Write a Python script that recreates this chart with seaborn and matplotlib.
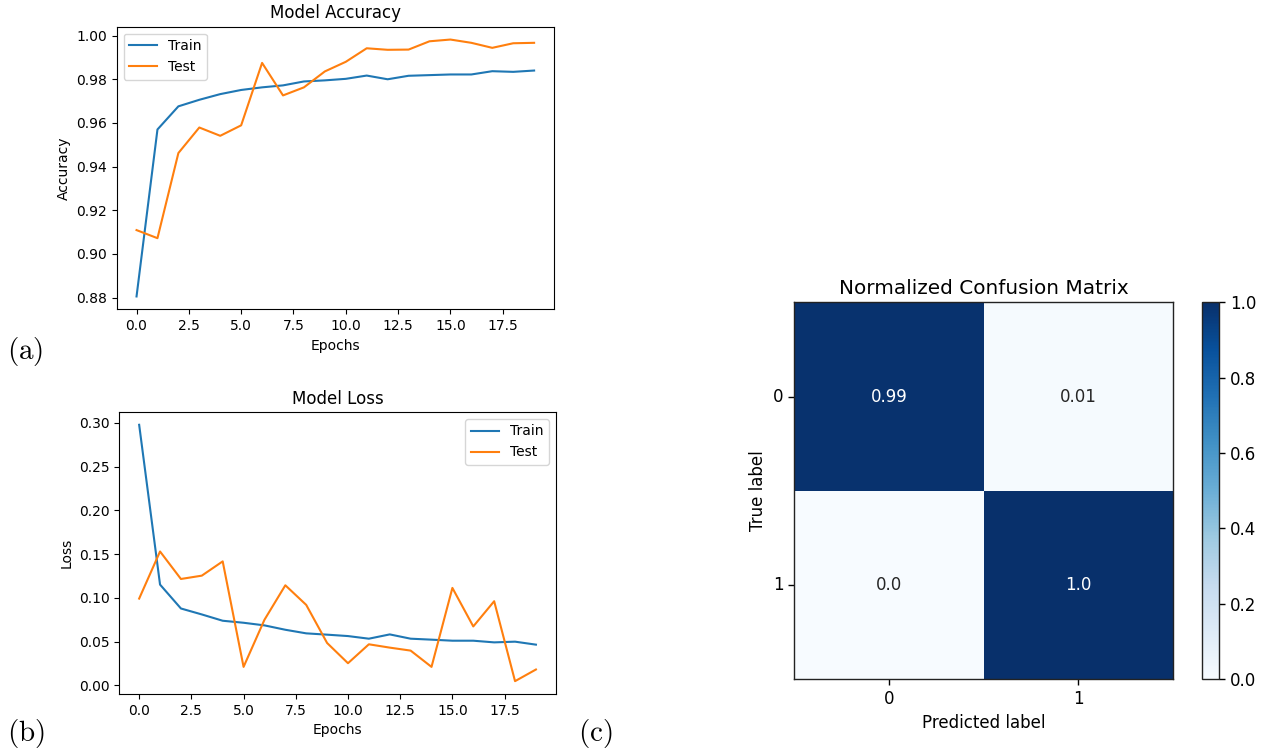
import numpy as np
import pandas as pd
import matplotlib
matplotlib.use("Agg")
import matplotlib.pyplot as plt
import seaborn as sns

# ---- data ----
epochs = list(range(20))
train_acc = [0.8805, 0.957, 0.9676, 0.9706, 0.9732, 0.9751, 0.9763, 0.9772, 0.979, 0.9795,
             0.9802, 0.9817, 0.980, 0.9816, 0.9819, 0.9822, 0.9822, 0.9837, 0.9834, 0.984]
test_acc = [0.9109, 0.9072, 0.9462, 0.9579, 0.9541, 0.9589, 0.9875, 0.9726, 0.9763, 0.9836,
            0.988, 0.9942, 0.9935, 0.9936, 0.9974, 0.9982, 0.9967, 0.9944, 0.9965, 0.9967]
train_loss = [0.2977, 0.1152, 0.0879, 0.0811, 0.0739, 0.0716, 0.0686, 0.0636, 0.0595, 0.058,
              0.0564, 0.0534, 0.0583, 0.0534, 0.0523, 0.0511, 0.0511, 0.0492, 0.050, 0.0466]
test_loss = [0.0992, 0.153, 0.1216, 0.1254, 0.1417, 0.0212, 0.075, 0.1144, 0.092, 0.0485,
             0.0254, 0.047, 0.0432, 0.0398, 0.0212, 0.1114, 0.0674, 0.0962, 0.0049, 0.0182]
series_labels = ["Train", "Test"]
class_labels = ["0", "1"]
cm_values = [[0.99, 0.01],
             [0.0, 1.0]]

plt.rcParams["mathtext.fontset"] = "cm"
plt.rcParams["font.family"] = ["DejaVu Sans"]

fig = plt.figure(figsize=(12.68, 7.5), dpi=100)

blue = "#1f77b4"
orange = "#ff7f0e"

# ---- accuracy ----
ax1 = fig.add_axes([0.0920, 0.5876, 0.3449, 0.3768])
sns.lineplot(x=epochs, y=train_acc, ax=ax1, color=blue, label=series_labels[0], linewidth=1.5)
sns.lineplot(x=epochs, y=test_acc, ax=ax1, color=orange, label=series_labels[1], linewidth=1.5)
ax1.set_title("Model Accuracy", fontsize=12)
ax1.set_xlabel("Epochs", fontsize=10)
ax1.set_ylabel("Accuracy", fontsize=10)
ax1.set_xticks(np.arange(0, 20, 2.5))
ax1.set_yticks(np.arange(0.88, 1.001, 0.02))
ax1.legend(loc="upper left", fontsize=10)
ax1.tick_params(labelsize=10)

# ---- loss ----
ax2 = fig.add_axes([0.0941, 0.0747, 0.3442, 0.376])
sns.lineplot(x=epochs, y=train_loss, ax=ax2, color=blue, label=series_labels[0], linewidth=1.5)
sns.lineplot(x=epochs, y=test_loss, ax=ax2, color=orange, label=series_labels[1], linewidth=1.5)
ax2.set_title("Model Loss", fontsize=12)
ax2.set_xlabel("Epochs", fontsize=10)
ax2.set_ylabel("Loss", fontsize=10)
ax2.set_xticks(np.arange(0, 20, 2.5))
ax2.set_yticks(np.arange(0.0, 0.301, 0.05))
ax2.legend(loc="upper right", fontsize=10)
ax2.tick_params(labelsize=10)

# ---- confusion matrix ----
ax3 = fig.add_axes([0.6262, 0.0943, 0.2989, 0.5027])
cax = fig.add_axes([0.9479, 0.0943, 0.01364, 0.5027])
cm_df = pd.DataFrame(cm_values, index=class_labels, columns=class_labels)
annot = [[str(v) for v in row] for row in cm_values]
sns.heatmap(cm_df, ax=ax3, cbar_ax=cax, cmap="Blues", vmin=0, vmax=1,
            annot=annot, fmt="", annot_kws={"fontsize": 12}, square=False)
for s in ax3.spines.values():
    s.set_visible(True)
    s.set_linewidth(1.0)
    s.set_color("#222222")
ax3.set_title("Normalized Confusion Matrix", fontsize=14.4)
ax3.set_xlabel("Predicted label", fontsize=12)
ax3.set_ylabel("True label", fontsize=12)
ax3.set_xticklabels(class_labels, rotation=0, fontsize=12)
ax3.set_yticklabels(class_labels, rotation=0, fontsize=12)
ax3.tick_params(length=4.2, width=1.0, left=True, bottom=True)
cbar = ax3.collections[0].colorbar
cbar.outline.set_visible(True)
cbar.outline.set_linewidth(1.0)
cbar.outline.set_edgecolor("#222222")
cbar.set_ticks([0.0, 0.2, 0.4, 0.6, 0.8, 1.0])
cbar.set_ticklabels(["0.0", "0.2", "0.4", "0.6", "0.8", "1.0"])
cax.tick_params(labelsize=12, length=4.2, width=1.0)

# ---- panel labels ----
fig.text(0.0055, 0.5213, r"$\mathrm{(a)}$", fontsize=21, va="baseline", ha="left")
fig.text(0.0055, 0.012, r"$\mathrm{(b)}$", fontsize=21, va="baseline", ha="left")
fig.text(0.4558, 0.012, r"$\mathrm{(c)}$", fontsize=21, va="baseline", ha="left")

fig.savefig("out.png", dpi=100)
